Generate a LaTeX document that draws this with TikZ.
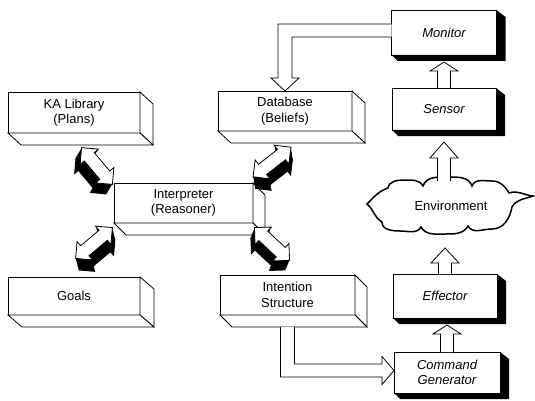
\documentclass[tikz,border=0pt]{standalone}
\usepackage{fontspec}
\setmainfont{Liberation Sans}
\usetikzlibrary{calc}
\newcommand\slabsides[3]{%
  \filldraw[side] (#1.north east) -- ($(#1.north east)+(#2,#3)$) -- ($(#1.south east)+(#2,#3)$) -- (#1.south east) -- cycle;
  \filldraw[side] (#1.south west) -- (#1.south east) -- ($(#1.south east)+(#2,#3)$) -- ($(#1.south west)+(#2,#3)$) -- cycle;
}
\newcommand\blackshadow[1]{%
  \fill (#1.north east) -- ($(#1.north east)+(9,7)$) -- ($(#1.south east)+(9,6)$) -- ($(#1.south west)+(6,6)$) -- (#1.south west) -- (#1.south east) -- cycle;
}
\newcommand\fatdbl[5]{%
  \foreach \k in {1,...,10}{%
    \fill[black,shift={({#1+\k*(#4)/10},{#2+\k*(#5)/10})},rotate=-#3]
      (-24,0) -- (-12,12) -- (-12,6.5) -- (12,6.5) -- (12,12) -- (24,0) -- (12,-12) -- (12,-6.5) -- (-12,-6.5) -- (-12,-12) -- cycle;
  }
  \filldraw[fill=white,draw=black,shift={(#1,#2)},rotate=-#3]
      (-24,0) -- (-12,12) -- (-12,6.5) -- (12,6.5) -- (12,12) -- (24,0) -- (12,-12) -- (12,-6.5) -- (-12,-6.5) -- (-12,-12) -- cycle;
}
% hollow upward arrow from node #1 (north) to target y given by node #2 (south) + gap #4; base at #3 above start
\newcommand\hollowup[4]{%
  \filldraw[hollow] ($(#1.north)+(-6.5,0)$) -- ($(#1.north)+(-6.5,-#3)$) -- ($(#1.north)+(-14,-#3)$)
    -- ($(#1.north |- #2.south)+(0,#4)$) -- ($(#1.north)+(14,-#3)$) -- ($(#1.north)+(6.5,-#3)$) -- ($(#1.north)+(6.5,0)$);
}
\begin{document}
\begin{tikzpicture}[x=1pt,y=-1pt,line width=0.8pt,line join=miter,
  txt/.style={font=\fontsize{13}{15.5}\selectfont},
  slabface/.style={draw,fill=white,inner sep=0pt,outer sep=0pt,align=center,txt},
  blackbox/.style={draw,fill=white,inner sep=0pt,outer sep=0pt,align=center,font=\fontsize{13}{15.5}\selectfont\itshape},
  side/.style={draw,fill=white},
  hollow/.style={draw,fill=white,line join=miter}]
\useasboundingbox (0,0) rectangle (535,401);

% ---- left slab boxes
\node[slabface,minimum width=132pt,minimum height=41pt] (ka) at (74,112.5) {KA Library\\(Plans)};
\slabsides{ka}{13}{12}
\node[slabface,minimum width=134pt,minimum height=40pt] (db) at (285,111) {Database\\(Beliefs)};
\slabsides{db}{13}{12}
\node[slabface,minimum width=139pt,minimum height=40pt] (int) at (183.5,203) {Interpreter\\(Reasoner)};
\slabsides{int}{12}{12}
\node[slabface,minimum width=132pt,minimum height=38pt] (goals) at (74,296) {Goals};
\slabsides{goals}{14}{12}
\node[slabface,minimum width=135pt,minimum height=40pt] (is) at (287.5,295) {Intention\\Structure};
\slabsides{is}{12}{12}

% ---- right column boxes
\node[blackbox,minimum width=105pt,minimum height=45pt] (mon) at (444,32.5) {Monitor};
\blackshadow{mon}
\node[blackbox,minimum width=104pt,minimum height=42pt] (sen) at (444,109) {Sensor};
\blackshadow{sen}
\node[blackbox,minimum width=104pt,minimum height=44pt] (eff) at (445,296) {Effector};
\blackshadow{eff}
\node[blackbox,minimum width=106pt,minimum height=41pt] (cmd) at (447,372.5) {Command\\Generator};
\blackshadow{cmd}

% ---- cloud
\filldraw[fill=white,draw=black,line width=1.5pt]
  (367,204) to[out=45,in=200] (388,188)
  to[out=80,in=180] (405,180)
  to[out=0,in=120] (423,186)
  to[out=70,in=180] (448,177)
  to[out=0,in=110] (472,186)
  to[out=70,in=180] (492,181)
  to[out=0,in=120] (509,193)
  to[out=20,in=175] (533,196)
  to[out=-160,in=60] (512,207)
  to[out=-100,in=0] (492,229)
  to[out=180,in=-60] (468,226)
  to[out=-120,in=0] (445,234)
  to[out=180,in=-60] (421,227)
  to[out=-120,in=0] (400,231)
  to[out=180,in=-90] (382,222)
  to[out=150,in=-40] cycle;
\node[txt] (env) at (451,206) {Environment};
\coordinate (envtop) at (444,181);
\coordinate (envbot) at (445,233);

% ---- hollow arrows (right column)
\hollowup{sen}{mon}{17}{7}
\filldraw[hollow] ($(envtop)+(-6.5,0)$) -- ($(envtop)+(-6.5,-23)$) -- ($(envtop)+(-14,-23)$)
   -- ($(envtop |- sen.south)+(0,12)$) -- ($(envtop)+(14,-23)$) -- ($(envtop)+(6.5,-23)$) -- ($(envtop)+(6.5,0)$);
\filldraw[hollow] ($(eff.north)+(-6.5,0)$) -- ($(eff.north)+(-6.5,-11)$) -- ($(eff.north)+(-14,-11)$)
   -- ($(eff.north |- envbot)+(0,15)$) -- ($(eff.north)+(14,-11)$) -- ($(eff.north)+(6.5,-11)$) -- ($(eff.north)+(6.5,0)$);
\hollowup{cmd}{eff}{18}{7}

% ---- Monitor -> Database
\filldraw[hollow] ($(mon.west)+(0,-8.5)$) -- ($(db.north |- mon.west)+(-7,-8.5)$) -- ($(db.north)+(-7,-13)$)
  -- ($(db.north)+(-14,-13)$) -- (db.north) -- ($(db.north)+(14,-13)$) -- ($(db.north)+(7,-13)$)
  -- ($(db.north |- mon.west)+(7,4.5)$) -- ($(mon.west)+(0,4.5)$);

% ---- Intention Structure -> Command Generator
\filldraw[hollow] ($(is.south)+(-7,12)$) -- ($(is.south |- cmd.west)+(-7,4.5)$) -- ($(cmd.west)+(-12,4.5)$)
  -- ($(cmd.west)+(-12,12)$) -- ($(cmd.west)+(0,-2)$) -- ($(cmd.west)+(-12,-16)$) -- ($(cmd.west)+(-12,-8.5)$)
  -- ($(is.south |- cmd.west)+(7,-8.5)$) -- ($(is.south)+(7,12)$);

% ---- fat double arrows
\fatdbl{97}{166}{50}{-6}{10}
\fatdbl{272}{162}{-38}{2}{12}
\fatdbl{94}{243}{-40}{3}{12}
\fatdbl{272}{244}{43}{-4}{10}
\end{tikzpicture}
\end{document}
